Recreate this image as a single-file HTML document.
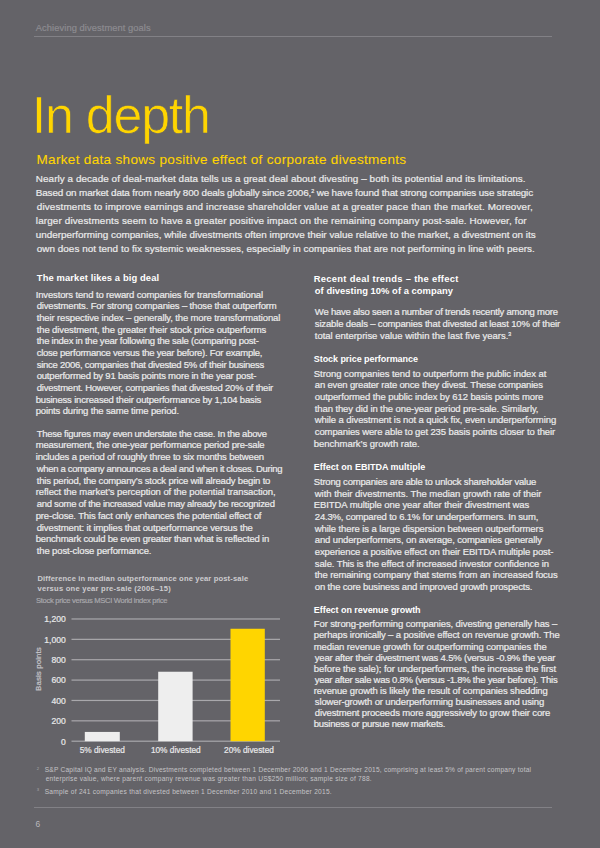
<!DOCTYPE html>
<html><head><meta charset="utf-8"><style>
html,body{margin:0;padding:0;}
body{width:600px;height:848px;background:#646368;position:relative;overflow:hidden;font-family:"Liberation Sans", sans-serif;}
.t{position:absolute;white-space:nowrap;line-height:normal;-webkit-text-stroke:0.2px currentColor;}
sup{font-size:55%;vertical-align:0;position:relative;top:-0.6em;}
.hr{position:absolute;height:1px;background:#828186;}
.ch{position:absolute;left:0;top:0;}
</style></head><body>
<div class='hr' style='left:34px;top:36px;width:518px'></div>
<div class='hr' style='left:34px;top:807px;width:518px'></div>
<svg class='ch' width='600' height='848' viewBox='0 0 600 848'><rect x='71.5' y='740.60' width='208.5' height='1.2' fill='#a9a8ac'/><rect x='71.5' y='720.23' width='208.5' height='1.2' fill='#a9a8ac'/><rect x='71.5' y='699.86' width='208.5' height='1.2' fill='#a9a8ac'/><rect x='71.5' y='679.49' width='208.5' height='1.2' fill='#a9a8ac'/><rect x='71.5' y='659.12' width='208.5' height='1.2' fill='#a9a8ac'/><rect x='71.5' y='638.75' width='208.5' height='1.2' fill='#a9a8ac'/><rect x='71.5' y='618.38' width='208.5' height='1.2' fill='#a9a8ac'/><rect x='84.8' y='731.93' width='35.0' height='9.27' fill='#eeeeee'/><rect x='158.2' y='671.74' width='34.400000000000006' height='69.46' fill='#eeeeee'/><rect x='230.5' y='628.76' width='34.30000000000001' height='112.44' fill='#ffd500'/></svg>
<div class='t' style='left:35.80px;top:23.00px;font-size:9.3px;font-weight:400;color:#8d8c91;letter-spacing:0.088px;'>Achieving divestment goals</div><div class='t' style='left:31.70px;top:85.00px;font-size:52px;font-weight:400;color:#ffd500;letter-spacing:-1.243px;-webkit-text-stroke:0.7px #646368'>In depth</div><div class='t' style='left:36.50px;top:152.00px;font-size:13.5px;font-weight:400;color:#ffd500;letter-spacing:0.328px;-webkit-text-stroke:0.1px currentColor'>Market data shows positive effect of corporate divestments</div><div class='t' style='left:35.80px;top:173.00px;font-size:9.9px;font-weight:400;color:#ececec;letter-spacing:0.073px;'>Nearly a decade of deal-market data tells us a great deal about divesting – both its potential and its limitations.</div><div class='t' style='left:35.80px;top:187.00px;font-size:9.9px;font-weight:400;color:#ececec;letter-spacing:-0.134px;'>Based on market data from nearly 800 deals globally since 2006,<sup>2</sup> we have found that strong companies use strategic</div><div class='t' style='left:36.80px;top:201.00px;font-size:9.9px;font-weight:400;color:#ececec;letter-spacing:0.143px;'>divestments to improve earnings and increase shareholder value at a greater pace than the market. Moreover,</div><div class='t' style='left:35.80px;top:215.00px;font-size:9.9px;font-weight:400;color:#ececec;letter-spacing:0.142px;'>larger divestments seem to have a greater positive impact on the remaining company post-sale. However, for</div><div class='t' style='left:35.80px;top:229.00px;font-size:9.9px;font-weight:400;color:#ececec;letter-spacing:-0.001px;'>underperforming companies, while divestments often improve their value relative to the market, a divestment on its</div><div class='t' style='left:36.80px;top:243.00px;font-size:9.9px;font-weight:400;color:#ececec;letter-spacing:0.035px;'>own does not tend to fix systemic weaknesses, especially in companies that are not performing in line with peers.</div><div class='t' style='left:36.80px;top:272.00px;font-size:9.4px;font-weight:700;color:#ffffff;letter-spacing:0.115px;-webkit-text-stroke:0'>The market likes a big deal</div><div class='t' style='left:35.70px;top:289.00px;font-size:9.5px;font-weight:400;color:#ececec;letter-spacing:-0.141px;'>Investors tend to reward companies for transformational</div><div class='t' style='left:36.70px;top:300.00px;font-size:9.5px;font-weight:400;color:#ececec;letter-spacing:-0.154px;'>divestments. For strong companies – those that outperform</div><div class='t' style='left:36.70px;top:312.00px;font-size:9.5px;font-weight:400;color:#ececec;letter-spacing:-0.135px;'>their respective index – generally, the more transformational</div><div class='t' style='left:36.70px;top:324.00px;font-size:9.5px;font-weight:400;color:#ececec;letter-spacing:-0.105px;'>the divestment, the greater their stock price outperforms</div><div class='t' style='left:36.70px;top:335.00px;font-size:9.5px;font-weight:400;color:#ececec;letter-spacing:-0.229px;'>the index in the year following the sale (comparing post-</div><div class='t' style='left:36.70px;top:347.00px;font-size:9.5px;font-weight:400;color:#ececec;letter-spacing:-0.248px;'>close performance versus the year before). For example,</div><div class='t' style='left:36.70px;top:359.00px;font-size:9.5px;font-weight:400;color:#ececec;letter-spacing:-0.258px;'>since 2006, companies that divested 5% of their business</div><div class='t' style='left:36.70px;top:370.00px;font-size:9.5px;font-weight:400;color:#ececec;letter-spacing:-0.200px;'>outperformed by 91 basis points more in the year post-</div><div class='t' style='left:36.70px;top:382.00px;font-size:9.5px;font-weight:400;color:#ececec;letter-spacing:-0.227px;'>divestment. However, companies that divested 20% of their</div><div class='t' style='left:35.70px;top:394.00px;font-size:9.5px;font-weight:400;color:#ececec;letter-spacing:-0.187px;'>business increased their outperformance by 1,104 basis</div><div class='t' style='left:35.70px;top:405.00px;font-size:9.5px;font-weight:400;color:#ececec;letter-spacing:-0.147px;'>points during the same time period.</div><div class='t' style='left:36.70px;top:428.00px;font-size:9.5px;font-weight:400;color:#ececec;letter-spacing:-0.269px;'>These figures may even understate the case. In the above</div><div class='t' style='left:35.70px;top:439.00px;font-size:9.5px;font-weight:400;color:#ececec;letter-spacing:-0.187px;'>measurement, the one-year performance period pre-sale</div><div class='t' style='left:35.70px;top:451.00px;font-size:9.5px;font-weight:400;color:#ececec;letter-spacing:-0.169px;'>includes a period of roughly three to six months between</div><div class='t' style='left:36.70px;top:463.00px;font-size:9.5px;font-weight:400;color:#ececec;letter-spacing:-0.311px;'>when a company announces a deal and when it closes. During</div><div class='t' style='left:36.70px;top:475.00px;font-size:9.5px;font-weight:400;color:#ececec;letter-spacing:-0.180px;'>this period, the company’s stock price will already begin to</div><div class='t' style='left:35.70px;top:486.00px;font-size:9.5px;font-weight:400;color:#ececec;letter-spacing:-0.063px;'>reflect the market’s perception of the potential transaction,</div><div class='t' style='left:36.70px;top:498.00px;font-size:9.5px;font-weight:400;color:#ececec;letter-spacing:-0.282px;'>and some of the increased value may already be recognized</div><div class='t' style='left:35.70px;top:510.00px;font-size:9.5px;font-weight:400;color:#ececec;letter-spacing:-0.156px;'>pre-close. This fact only enhances the potential effect of</div><div class='t' style='left:36.70px;top:522.00px;font-size:9.5px;font-weight:400;color:#ececec;letter-spacing:-0.117px;'>divestment: it implies that outperformance versus the</div><div class='t' style='left:35.70px;top:533.00px;font-size:9.5px;font-weight:400;color:#ececec;letter-spacing:-0.186px;'>benchmark could be even greater than what is reflected in</div><div class='t' style='left:36.70px;top:545.00px;font-size:9.5px;font-weight:400;color:#ececec;letter-spacing:-0.115px;'>the post-close performance.</div><div class='t' style='left:37.50px;top:574.00px;font-size:7.6px;font-weight:700;color:#cdcccf;letter-spacing:0.136px;-webkit-text-stroke:0'>Difference in median outperformance one year post-sale</div><div class='t' style='left:37.50px;top:584.00px;font-size:7.6px;font-weight:700;color:#cdcccf;letter-spacing:0.227px;-webkit-text-stroke:0'>versus one year pre-sale (2006–15)</div><div class='t' style='left:36.00px;top:596.00px;font-size:7.6px;font-weight:400;color:#a9a8ac;letter-spacing:-0.308px;'>Stock price versus MSCI World index price</div><div class='t' style='left:313.80px;top:273.00px;font-size:9.4px;font-weight:700;color:#ffffff;letter-spacing:0.287px;-webkit-text-stroke:0'>Recent deal trends – the effect</div><div class='t' style='left:314.80px;top:285.00px;font-size:9.4px;font-weight:700;color:#ffffff;letter-spacing:0.043px;-webkit-text-stroke:0'>of divesting 10% of a company</div><div class='t' style='left:314.80px;top:306.00px;font-size:9.5px;font-weight:400;color:#ececec;letter-spacing:-0.213px;'>We have also seen a number of trends recently among more</div><div class='t' style='left:314.80px;top:318.00px;font-size:9.5px;font-weight:400;color:#ececec;letter-spacing:-0.153px;'>sizable deals – companies that divested at least 10% of their</div><div class='t' style='left:314.80px;top:330.00px;font-size:9.5px;font-weight:400;color:#ececec;letter-spacing:-0.016px;'>total enterprise value within the last five years.<sup>3</sup></div><div class='t' style='left:313.80px;top:354.00px;font-size:9.0px;font-weight:700;color:#ffffff;letter-spacing:-0.064px;-webkit-text-stroke:0'>Stock price performance</div><div class='t' style='left:313.80px;top:368.00px;font-size:9.5px;font-weight:400;color:#ececec;letter-spacing:-0.063px;'>Strong companies tend to outperform the public index at</div><div class='t' style='left:314.80px;top:379.00px;font-size:9.5px;font-weight:400;color:#ececec;letter-spacing:-0.166px;'>an even greater rate once they divest. These companies</div><div class='t' style='left:314.80px;top:391.00px;font-size:9.5px;font-weight:400;color:#ececec;letter-spacing:-0.091px;'>outperformed the public index by 612 basis points more</div><div class='t' style='left:314.80px;top:403.00px;font-size:9.5px;font-weight:400;color:#ececec;letter-spacing:-0.104px;'>than they did in the one-year period pre-sale. Similarly,</div><div class='t' style='left:314.80px;top:414.00px;font-size:9.5px;font-weight:400;color:#ececec;letter-spacing:-0.090px;'>while a divestment is not a quick fix, even underperforming</div><div class='t' style='left:314.80px;top:426.00px;font-size:9.5px;font-weight:400;color:#ececec;letter-spacing:-0.117px;'>companies were able to get 235 basis points closer to their</div><div class='t' style='left:313.80px;top:438.00px;font-size:9.5px;font-weight:400;color:#ececec;letter-spacing:-0.026px;'>benchmark’s growth rate.</div><div class='t' style='left:313.80px;top:462.00px;font-size:9.0px;font-weight:700;color:#ffffff;letter-spacing:0.008px;-webkit-text-stroke:0'>Effect on EBITDA multiple</div><div class='t' style='left:313.80px;top:476.00px;font-size:9.5px;font-weight:400;color:#ececec;letter-spacing:-0.188px;'>Strong companies are able to unlock shareholder value</div><div class='t' style='left:314.80px;top:488.00px;font-size:9.5px;font-weight:400;color:#ececec;letter-spacing:-0.033px;'>with their divestments. The median growth rate of their</div><div class='t' style='left:313.80px;top:499.00px;font-size:9.5px;font-weight:400;color:#ececec;letter-spacing:-0.084px;'>EBITDA multiple one year after their divestment was</div><div class='t' style='left:314.80px;top:511.00px;font-size:9.5px;font-weight:400;color:#ececec;letter-spacing:-0.173px;'>24.3%, compared to 6.1% for underperformers. In sum,</div><div class='t' style='left:314.80px;top:523.00px;font-size:9.5px;font-weight:400;color:#ececec;letter-spacing:-0.089px;'>while there is a large dispersion between outperformers</div><div class='t' style='left:314.80px;top:534.00px;font-size:9.5px;font-weight:400;color:#ececec;letter-spacing:-0.133px;'>and underperformers, on average, companies generally</div><div class='t' style='left:314.80px;top:546.00px;font-size:9.5px;font-weight:400;color:#ececec;letter-spacing:-0.107px;'>experience a positive effect on their EBITDA multiple post-</div><div class='t' style='left:314.80px;top:558.00px;font-size:9.5px;font-weight:400;color:#ececec;letter-spacing:-0.105px;'>sale. This is the effect of increased investor confidence in</div><div class='t' style='left:314.80px;top:569.00px;font-size:9.5px;font-weight:400;color:#ececec;letter-spacing:-0.116px;'>the remaining company that stems from an increased focus</div><div class='t' style='left:314.80px;top:581.00px;font-size:9.5px;font-weight:400;color:#ececec;letter-spacing:-0.156px;'>on the core business and improved growth prospects.</div><div class='t' style='left:313.80px;top:605.00px;font-size:9.0px;font-weight:700;color:#ffffff;letter-spacing:-0.052px;-webkit-text-stroke:0'>Effect on revenue growth</div><div class='t' style='left:313.80px;top:618.00px;font-size:9.5px;font-weight:400;color:#ececec;letter-spacing:-0.119px;'>For strong-performing companies, divesting generally has –</div><div class='t' style='left:313.80px;top:629.00px;font-size:9.5px;font-weight:400;color:#ececec;letter-spacing:-0.120px;'>perhaps ironically – a positive effect on revenue growth. The</div><div class='t' style='left:313.80px;top:641.00px;font-size:9.5px;font-weight:400;color:#ececec;letter-spacing:-0.112px;'>median revenue growth for outperforming companies the</div><div class='t' style='left:314.80px;top:652.00px;font-size:9.5px;font-weight:400;color:#ececec;letter-spacing:-0.193px;'>year after their divestment was 4.5% (versus -0.9% the year</div><div class='t' style='left:313.80px;top:663.00px;font-size:9.5px;font-weight:400;color:#ececec;letter-spacing:-0.063px;'>before the sale); for underperformers, the increase the first</div><div class='t' style='left:314.80px;top:674.00px;font-size:9.5px;font-weight:400;color:#ececec;letter-spacing:-0.253px;'>year after sale was 0.8% (versus -1.8% the year before). This</div><div class='t' style='left:313.80px;top:685.00px;font-size:9.5px;font-weight:400;color:#ececec;letter-spacing:-0.121px;'>revenue growth is likely the result of companies shedding</div><div class='t' style='left:314.80px;top:696.00px;font-size:9.5px;font-weight:400;color:#ececec;letter-spacing:-0.138px;'>slower-growth or underperforming businesses and using</div><div class='t' style='left:314.80px;top:707.00px;font-size:9.5px;font-weight:400;color:#ececec;letter-spacing:-0.142px;'>divestment proceeds more aggressively to grow their core</div><div class='t' style='left:313.80px;top:718.00px;font-size:9.5px;font-weight:400;color:#ececec;letter-spacing:-0.260px;'>business or pursue new markets.</div><div class='t' style='left:44.70px;top:766.00px;font-size:6.6px;font-weight:400;color:#c4c3c7;letter-spacing:0.223px;-webkit-text-stroke:0'>S&amp;P Capital IQ and EY analysis. Divestments completed between 1 December 2006 and 1 December 2015, comprising at least 5% of parent company total</div><div class='t' style='left:45.70px;top:775.00px;font-size:6.6px;font-weight:400;color:#c4c3c7;letter-spacing:0.256px;-webkit-text-stroke:0'>enterprise value, where parent company revenue was greater than US$250 million; sample size of 788.</div><div class='t' style='left:44.70px;top:788.00px;font-size:6.6px;font-weight:400;color:#c4c3c7;letter-spacing:0.267px;-webkit-text-stroke:0'>Sample of 241 companies that divested between 1 December 2010 and 1 December 2015.</div><div class='t' style='left:36.80px;top:766.00px;font-size:4.2px;font-weight:400;color:#a9a8ac;letter-spacing:0.000px;-webkit-text-stroke:0'>2</div><div class='t' style='left:36.80px;top:787.00px;font-size:4.2px;font-weight:400;color:#a9a8ac;letter-spacing:0.000px;-webkit-text-stroke:0'>3</div><div class='t' style='left:35.50px;top:819.00px;font-size:8.4px;font-weight:400;color:#b9b8bc;letter-spacing:0.000px;-webkit-text-stroke:0'>6</div>
<div class='t' style='right:534.20px;top:736.52px;font-size:8.6px;color:#e9e9ea'>0</div><div class='t' style='right:534.20px;top:716.15px;font-size:8.6px;color:#e9e9ea'>200</div><div class='t' style='right:534.20px;top:695.78px;font-size:8.6px;color:#e9e9ea'>400</div><div class='t' style='right:534.20px;top:675.41px;font-size:8.6px;color:#e9e9ea'>600</div><div class='t' style='right:534.20px;top:655.04px;font-size:8.6px;color:#e9e9ea'>800</div><div class='t' style='right:534.20px;top:634.67px;font-size:8.6px;color:#e9e9ea'>1,000</div><div class='t' style='right:534.20px;top:614.30px;font-size:8.6px;color:#e9e9ea'>1,200</div><div class='t' style='left:42.30px;width:120px;text-align:center;top:744.99px;font-size:8.3px;color:#e9e9ea'>5% divested</div><div class='t' style='left:115.80px;width:120px;text-align:center;top:744.99px;font-size:8.3px;color:#e9e9ea'>10% divested</div><div class='t' style='left:189.00px;width:120px;text-align:center;top:744.99px;font-size:8.3px;color:#e9e9ea'>20% divested</div><div class='t' style='left:37.6px;top:669.4px;font-size:7.9px;color:#c9c8cc;letter-spacing:0.1px;transform:translate(-50%,-50%) rotate(-90deg);transform-origin:center'>Basis points</div>
</body></html>
